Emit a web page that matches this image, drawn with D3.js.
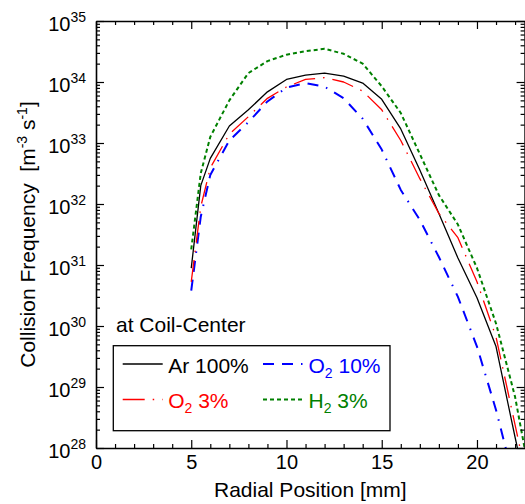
<!DOCTYPE html>
<html>
<head>
<meta charset="utf-8">
<script src="https://cdn.jsdelivr.net/npm/d3@7"></script>
<style>
  html, body { margin: 0; padding: 0; background: #fff; }
  svg { display: block; font-family: "Liberation Sans", Arial, Helvetica, sans-serif; }
  .axis path, .axis line { stroke: #000; }
</style>
</head>
<body>
<svg id="chart" width="525" height="504"></svg>
<script>
// Radial positions [mm] of the computed profiles
const radius = [5, 5.5, 6, 7, 8, 9, 10, 11, 12, 13, 14, 15, 16, 17, 18, 19, 20, 21, 22, 22.5];

// Collision frequency [m^-3 s^-1] for each gas mixture
const ar100 = [8.9e30, 2.0e32, 5.6e32, 1.9e33, 3.5e33, 6.9e33, 1.1e34, 1.3e34, 1.4e34, 1.25e34,
               9.6e33, 5.2e33, 1.7e33, 3.6e32, 7.0e31, 1.3e31, 2.9e30, 4.6e29, 1.5e28, 2.9e27];
const o2_10 = [3.8e30, 6.2e31, 3.0e32, 1.1e33, 2.2e33, 4.8e33, 8.1e33, 9.6e33, 8.4e33, 5.4e33,
               2.5e33, 7.8e32, 1.7e32, 5.5e31, 1.35e31, 3.0e30, 4.6e29, 4.2e28, 2.5e27, 1.0e27];
const o2_3  = [5.3e30, 9.0e31, 3.9e32, 1.4e33, 2.7e33, 5.4e33, 8.3e33, 1.1e34, 1.18e34, 1.0e34,
               7.1e33, 3.5e33, 1.1e33, 2.6e32, 7.0e31, 2.8e31, 5.3e30, 6.6e29, 2.4e28, 4.5e27];
const h2_3  = [1.8e31, 3.2e32, 1.26e33, 5.0e33, 1.4e34, 2.2e34, 2.8e34, 3.2e34, 3.5e34, 2.9e34,
               2.0e34, 8.5e33, 3.1e33, 6.6e32, 1.4e32, 4.6e31, 8.9e30, 1.1e30, 6.9e28, 1.0e28];

// Axis tick values
const xTicks = d3.range(0, 23, 1);
const xLabels = [0, 5, 10, 15, 20];
const yExponents = [28, 29, 30, 31, 32, 33, 34, 35];

const series = [
  { name: "Ar 100%", gas: "Ar", rest: " 100%", values: ar100, color: "#000000", width: 1.3, dash: null,             col: 0, row: 0 },
  { name: "O2 10%",  gas: "O",  sub: "2", rest: " 10%", values: o2_10, color: "#0000ff", width: 2.0, dash: "11,8,11,8,1.5,8", col: 1, row: 0 },
  { name: "O2 3%",   gas: "O",  sub: "2", rest: " 3%",  values: o2_3,  color: "#ff0000", width: 1.3, dash: "22,8,1.5,8",     col: 0, row: 1 },
  { name: "H2 3%",   gas: "H",  sub: "2", rest: " 3%",  values: h2_3,  color: "#008000", width: 2.0, dash: "4,3",            col: 1, row: 1 }
];

const svg = d3.select("#chart");
const plotL = 96, plotR = 524.6, plotT = 21, plotB = 448;

const x = d3.scaleLinear().domain([0, 22.5]).range([plotL, plotR]);
const y = d3.scaleLog().domain([1e28, 1e35]).range([plotB, plotT]);

// clip curves to the plotting frame
svg.append("clipPath").attr("id", "plotClip")
  .append("rect").attr("x", plotL).attr("y", plotT).attr("width", plotR - plotL).attr("height", plotB - plotT);

const line = d3.line().x(d => x(d[0])).y(d => y(d[1]));

const curves = svg.append("g").attr("clip-path", "url(#plotClip)");
series.forEach(s => {
  curves.append("path")
    .datum(radius.map((r, i) => [r, s.values[i]]))
    .attr("d", line)
    .attr("fill", "none")
    .attr("stroke", s.color)
    .attr("stroke-width", s.width)
    .attr("stroke-dasharray", s.dash)
    .attr("stroke-linejoin", "round");
});

// y ticks: decades plus 2..9 minors
const yTicks = [];
yExponents.forEach(e => {
  if (e === 35) { yTicks.push(1e35); return; }
  for (let m = 1; m <= 9; m++) yTicks.push(m * Math.pow(10, e));
});
const isMajorY = v => Math.abs(Math.log10(v) - Math.round(Math.log10(v))) < 1e-9;

function styleAxis(g) {
  g.select(".domain").attr("stroke-width", 1.6);
  g.selectAll(".tick line").attr("stroke-width", 1.2);
}

// bottom axis
const gx = svg.append("g").attr("class", "axis")
  .attr("transform", `translate(0,${plotB})`)
  .call(d3.axisBottom(x).tickValues(xTicks).tickSizeInner(-4).tickSizeOuter(0).tickPadding(7)
        .tickFormat(d => xLabels.includes(d) ? String(d) : ""));
gx.selectAll(".tick line").attr("y2", d => xLabels.includes(d) ? -8 : -4);
gx.selectAll(".tick text").attr("font-size", 20).attr("font-family", null).attr("fill", "#000");
styleAxis(gx);

// top axis
const gxt = svg.append("g").attr("class", "axis")
  .attr("transform", `translate(0,${plotT})`)
  .call(d3.axisTop(x).tickValues(xTicks).tickSizeInner(-4).tickSizeOuter(0).tickFormat(""));
gxt.selectAll(".tick line").attr("y2", d => xLabels.includes(d) ? 8 : 4);
styleAxis(gxt);

// left axis with 10^n labels
const gy = svg.append("g").attr("class", "axis")
  .attr("transform", `translate(${plotL},0)`)
  .call(d3.axisLeft(y).tickValues(yTicks).tickSizeInner(-4).tickSizeOuter(0).tickPadding(10)
        .tickFormat(d => isMajorY(d) ? String(Math.round(Math.log10(d))) : ""));
gy.selectAll(".tick line").attr("x2", d => isMajorY(d) ? 8 : 4);
gy.selectAll(".tick text").each(function(d) {
  const t = d3.select(this);
  const exp = t.text();
  t.text(null).attr("dy", null).attr("y", 9).attr("font-family", null).attr("fill", "#000");
  if (!exp) return;
  t.append("tspan").attr("font-size", 20).text("10");
  t.append("tspan").attr("font-size", 14).attr("dy", -8.5).text(exp);
});
styleAxis(gy);

// right axis
const gyr = svg.append("g").attr("class", "axis")
  .attr("transform", `translate(${plotR},0)`)
  .call(d3.axisRight(y).tickValues(yTicks).tickSizeInner(-4).tickSizeOuter(0).tickFormat(""));
gyr.selectAll(".tick line").attr("x2", d => isMajorY(d) ? -8 : -4);
styleAxis(gyr);

// axis titles
svg.append("text")
  .attr("x", (plotL + plotR) / 2).attr("y", 497)
  .attr("text-anchor", "middle").attr("font-size", 21)
  .text("Radial Position [mm]");

const yTitle = svg.append("text")
  .attr("transform", `translate(35,${(plotT + plotB) / 2}) rotate(-90)`)
  .attr("text-anchor", "middle").attr("font-size", 21);
yTitle.append("tspan").text("Collision Frequency\u00a0\u00a0[m");
yTitle.append("tspan").attr("font-size", 14).attr("dy", -8).text("-3");
yTitle.append("tspan").attr("dy", 8).text(" s");
yTitle.append("tspan").attr("font-size", 14).attr("dy", -8).text("-1");
yTitle.append("tspan").attr("dy", 8).text("]");

// annotation
svg.append("text")
  .attr("x", 116).attr("y", 331.5).attr("font-size", 21)
  .text("at Coil-Center");

// legend
const legend = svg.append("g");
legend.append("rect")
  .attr("x", 113.3).attr("y", 345.7).attr("width", 276.7).attr("height", 85)
  .attr("fill", "#fff").attr("stroke", "#000").attr("stroke-width", 1.3);

const colX = [122.7, 263], rowY = [364, 399.5];
series.forEach(s => {
  const lx = colX[s.col], ly = rowY[s.row];
  legend.append("line")
    .attr("x1", lx).attr("x2", lx + 40).attr("y1", ly).attr("y2", ly)
    .attr("stroke", s.color).attr("stroke-width", s.width)
    .attr("stroke-dasharray", s.dash);
  const t = legend.append("text")
    .attr("x", lx + 45.5).attr("y", ly + 8.5)
    .attr("font-size", 21).attr("fill", s.color);
  t.append("tspan").text(s.gas);
  if (s.sub) {
    t.append("tspan").attr("font-size", 14).attr("dy", 5).text(s.sub);
    t.append("tspan").attr("dy", -5).text(s.rest);
  } else {
    t.append("tspan").text(s.rest);
  }
});
</script>
</body>
</html>
